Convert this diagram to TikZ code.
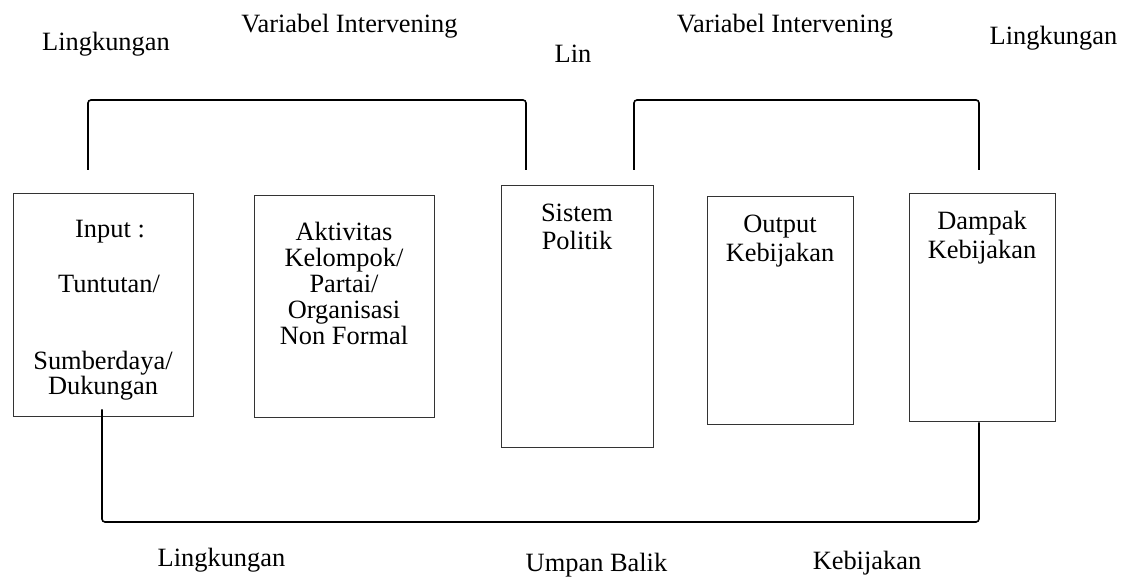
\documentclass[tikz,border=0pt]{standalone}
\usepackage{fontspec}
\setmainfont{Liberation Serif}
\begin{document}
\begin{tikzpicture}[x=0.5pt,y=-0.5pt,
  txt/.style={anchor=base,inner sep=0pt,font=\fontsize{13.2}{15}\selectfont},
  boxnode/.style={draw=black!80,line width=0.5pt,inner sep=0pt},
  bracket/.style={draw=black,line width=0.8pt,rounded corners=1.5pt}]
\useasboundingbox (0,0) rectangle (1121,577);
% boxes
\node[boxnode,minimum width=90pt,minimum height=111.5pt] (inp) at (103,305.5) {};
\node[boxnode,minimum width=90pt,minimum height=111pt] (akt) at (344,307) {};
\node[boxnode,minimum width=76pt,minimum height=131pt] (sis) at (577,317) {};
\node[boxnode,minimum width=73pt,minimum height=114pt] (out) at (780,311) {};
\node[boxnode,minimum width=73pt,minimum height=114pt] (dam) at (982,308) {};
% box texts
\node[txt] (t1) at (110,238) {Input :};
\node[txt] (t2) at (109,293) {Tuntutan/};
\node[txt] (t3) at (103,370) {Sumberdaya/};
\node[txt] (t4) at (103,395) {Dukungan};
\node[txt] (a1) at (344,241) {Aktivitas};
\node[txt] (a2) at (344,267) {Kelompok/};
\node[txt] (a3) at (344,293) {Partai/};
\node[txt] (a4) at (344,319) {Organisasi};
\node[txt] (a5) at (344,345) {Non Formal};
\node[txt] (s1) at (577,222) {Sistem};
\node[txt] (s2) at (577,250) {Politik};
\node[txt] (o1) at (780,233) {Output};
\node[txt] (o2) at (780,262) {Kebijakan};
\node[txt] (d1) at (982,230) {Dampak};
\node[txt] (d2) at (982,259) {Kebijakan};
% outer labels
\node[txt] (l1) at (106,51) {Lingkungan};
\node[txt] (v1) at (349.5,33) {Variabel Intervening};
\node[txt] (l2) at (573,63) {Lin};
\node[txt] (v2) at (785,33) {Variabel Intervening};
\node[txt] (l3) at (1053.5,45) {Lingkungan};
\node[txt] (l4) at (221.5,567) {Lingkungan};
\node[txt] (ub) at (596.5,572) {Umpan Balik};
\node[txt] (kb) at (867,570) {Kebijakan};
% brackets
\coordinate (b1s) at (88,170);
\coordinate (b1e) at (526,170);
\coordinate (b2s) at (634,170);
\coordinate (b2e) at (979,170);
\coordinate (b3s) at (inp.south -| 102,0);
\coordinate (b3e) at (dam.south -| 979,0);
\draw[bracket] (b1s) -- (88,100) -- (526,100) -- (b1e);
\draw[bracket] (b2s) -- (634,100) -- (979,100) -- (b2e);
\draw[bracket] ([yshift=4]b3s) -- (102,522) -- (979,522) -- (b3e);
\end{tikzpicture}
\end{document}
